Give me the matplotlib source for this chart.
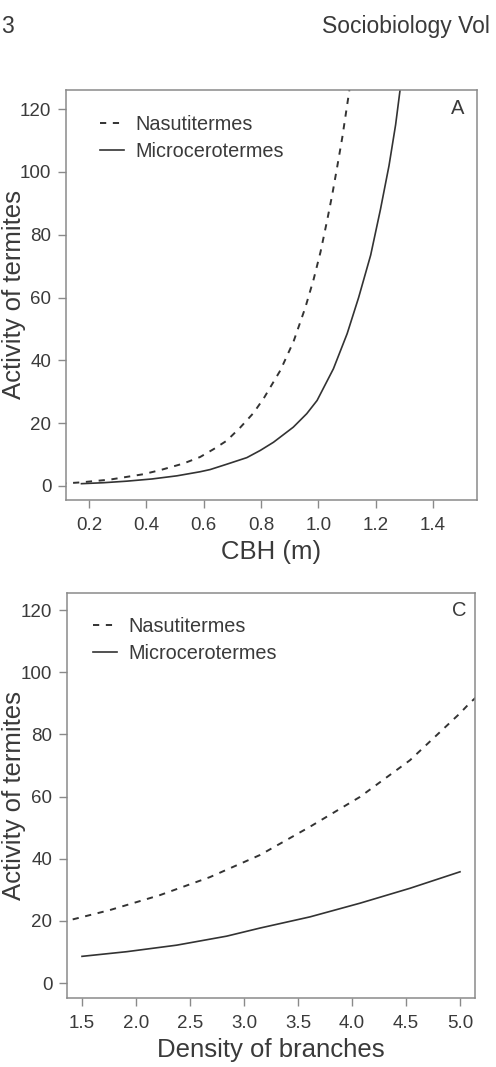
import matplotlib
matplotlib.use("Agg")
import matplotlib.pyplot as plt

plt.rcParams['font.family'] = ['Liberation Sans', 'DejaVu Sans']

# ---- data ----
cbh_nasu = [0.10, 0.17, 0.273, 0.389, 0.448, 0.529, 0.588, 0.635, 0.681, 0.728, 0.774,
            0.81, 0.868, 0.914, 0.955, 0.984, 1.008, 1.031, 1.049, 1.066, 1.084, 1.107, 1.12]
act_nasu_a = [0.7, 1.1, 2.0, 3.7, 5.0, 7.1, 9.2, 11.7, 14.4, 18.6, 23.2,
              27.9, 36.8, 46.0, 56.8, 65.8, 74.5, 84.5, 92.8, 101.5, 111.0, 125.0, 134.0]
cbh_micro = [0.174, 0.25, 0.332, 0.42, 0.507, 0.588, 0.623, 0.681, 0.751, 0.798, 0.844,
             0.913, 0.96, 0.996, 1.053, 1.101, 1.141, 1.183, 1.217, 1.247, 1.27, 1.285, 1.295]
act_micro_a = [0.7, 1.0, 1.5, 2.2, 3.2, 4.5, 5.2, 6.9, 9.0, 11.3, 13.9,
               18.7, 23.0, 27.2, 37.3, 48.5, 60.0, 73.5, 88.0, 102.0, 115.0, 125.7, 132.0]

dens_nasu = [1.30, 1.358, 1.759, 2.222, 2.685, 3.148, 3.611, 4.074, 4.537, 5.0, 5.093, 5.2]
act_nasu_c = [19.3, 20.0, 23.5, 28.3, 34.1, 41.2, 50.3, 59.9, 71.7, 86.8, 90.2, 93.5]
dens_micro = [1.5, 1.914, 2.377, 2.84, 3.148, 3.611, 4.074, 4.537, 5.0]
act_micro_c = [8.6, 10.1, 12.2, 15.1, 17.7, 21.3, 25.7, 30.5, 35.8]

yticks = [0, 20, 40, 60, 80, 100, 120]
xticks_a = [0.2, 0.4, 0.6, 0.8, 1.0, 1.2, 1.4]
xticklabels_a = ["0.2", "0.4", "0.6", "0.8", "1.0", "1.2", "1.4"]
xticks_c = [1.5, 2.0, 2.5, 3.0, 3.5, 4.0, 4.5, 5.0]
xticklabels_c = ["1.5", "2.0", "2.5", "3.0", "3.5", "4.0", "4.5", "5.0"]
series_names = ["Nasutitermes", "Microcerotermes"]

W, H = 496, 1067
fig = plt.figure(figsize=(W / 100, H / 100), dpi=100)

TXT = '#3a3a3a'
SPN = '#8a8a8a'
LINE = '#333333'


def px_axes(l, t, r, b):
    return fig.add_axes([l / W, 1 - b / H, (r - l) / W, (b - t) / H])


def style(ax, xticks, xlabels, xlim, ylim, xlabel, letter, letter_xy, leg_xy):
    ax.set_xlim(*xlim)
    ax.set_ylim(*ylim)
    ax.set_yticks(yticks)
    ax.set_yticklabels([str(v) for v in yticks])
    ax.set_xticks(xticks)
    ax.set_xticklabels(xlabels)
    for s in ax.spines.values():
        s.set_color(SPN)
        s.set_linewidth(1.1)
    ax.tick_params(axis='both', direction='out', length=5.5, width=1.0, color=SPN,
                   labelcolor=TXT, labelsize=13.5)
    ax.tick_params(axis='y', pad=5)
    ax.tick_params(axis='x', pad=7)
    ax.set_xlabel(xlabel, fontsize=18.5, color=TXT, labelpad=4)
    ax.text(letter_xy[0], letter_xy[1], letter, transform=ax.transAxes, ha='center',
            va='center', fontsize=14.5, color=TXT)
    leg = ax.legend(loc='upper left', bbox_to_anchor=(leg_xy[0] / W, 1 - leg_xy[1] / H),
                    bbox_transform=fig.transFigure, frameon=False, fontsize=14.3,
                    handlelength=1.2, handletextpad=0.6, labelspacing=0.42,
                    borderpad=0, borderaxespad=0)
    for t in leg.get_texts():
        t.set_color(TXT)


axA = px_axes(66, 90, 477, 500)
axA.plot(cbh_nasu, act_nasu_a, color=LINE, lw=1.4, linestyle=(0, (3.2, 3.4)), label=series_names[0])
axA.plot(cbh_micro, act_micro_a, color=LINE, lw=1.2, label=series_names[1])
style(axA, xticks_a, xticklabels_a, (0.12, 1.554), (-4.5, 126.1), "CBH (m)", "A",
      (0.954, 0.954), (100, 115))

axC = px_axes(67, 593, 475, 998)
axC.plot(dens_nasu, act_nasu_c, color=LINE, lw=1.4, linestyle=(0, (3.2, 3.4)), label=series_names[0])
axC.plot(dens_micro, act_micro_c, color=LINE, lw=1.2, label=series_names[1])
style(axC, xticks_c, xticklabels_c, (1.361, 5.139), (-4.8, 125.5), "Density of branches", "C",
      (0.961, 0.956), (93, 617))

# y labels placed in figure pixels
fig.text(14 / W, 1 - 295 / H, "Activity of termites", rotation=90, ha='center', va='center',
         fontsize=18.5, color=TXT)
fig.text(14 / W, 1 - 795 / H, "Activity of termites", rotation=90, ha='center', va='center',
         fontsize=18.5, color=TXT)

# page header
fig.text(322 / W, 1 - 33 / H, "Sociobiology Vol", ha='left', va='baseline', fontsize=16.5, color=TXT)
fig.text(1 / W, 1 - 33 / H, "3", ha='left', va='baseline', fontsize=16.5, color=TXT)

fig.savefig("out.png", dpi=100)
